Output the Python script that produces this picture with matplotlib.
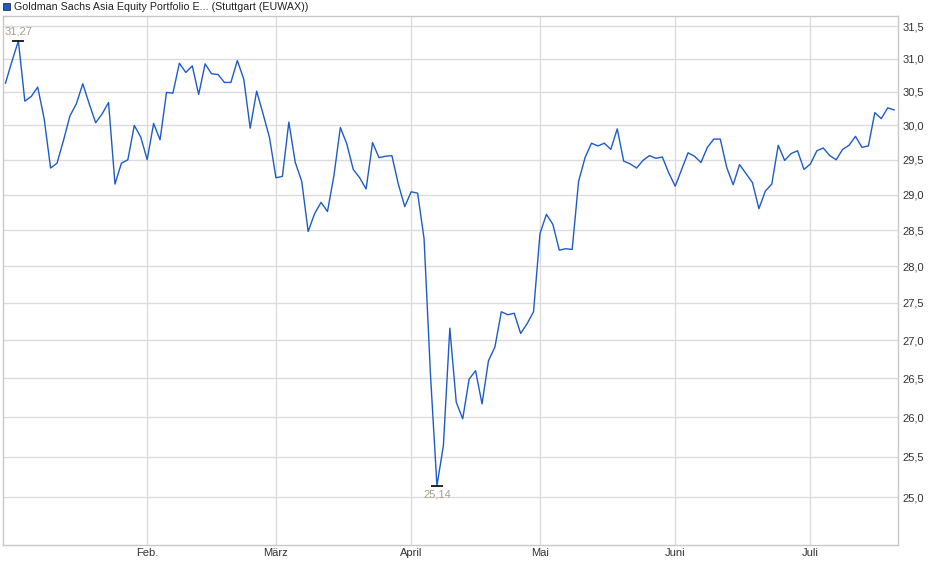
import matplotlib
matplotlib.use("Agg")
import matplotlib.pyplot as plt
from matplotlib.patches import Rectangle
from matplotlib.ticker import FixedLocator, NullLocator, NullFormatter
import numpy as np

plt.rcParams['font.family'] = ['Liberation Sans', 'DejaVu Sans']

# daily closes, 2 Jan .. mid July (trading days)
prices = [
    30.63, 30.96, 31.27, 30.36, 30.43, 30.57, 30.10, 29.38, 29.45, 29.78,
    30.14, 30.32, 30.62, 30.32, 30.04, 30.17, 30.34, 29.15, 29.45, 29.50,
    30.00, 29.83, 29.50, 30.03, 29.79, 30.49, 30.48, 30.93, 30.79, 30.89,
    30.46, 30.92, 30.77, 30.76, 30.64, 30.64, 30.97, 30.69, 29.96, 30.51,
    30.17, 29.82, 29.24, 29.26, 30.05, 29.46, 29.19, 28.48, 28.73, 28.89,
    28.76, 29.27, 29.97, 29.73, 29.36, 29.24, 29.08, 29.75, 29.53, 29.55,
    29.56, 29.15, 28.83, 29.04, 29.02, 28.38, 26.54, 25.14, 25.64, 27.16,
    26.19, 25.98, 26.49, 26.60, 26.17, 26.73, 26.91, 27.38, 27.34, 27.36,
    27.09, 27.22, 27.38, 28.45, 28.72, 28.58, 28.22, 28.24, 28.23, 29.19,
    29.53, 29.74, 29.70, 29.74, 29.65, 29.95, 29.48, 29.44, 29.38, 29.49,
    29.56, 29.52, 29.54, 29.31, 29.12, 29.36, 29.60, 29.55, 29.46, 29.68,
    29.80, 29.80, 29.39, 29.14, 29.43, 29.30, 29.17, 28.80, 29.05, 29.15,
    29.71, 29.49, 29.59, 29.63, 29.36, 29.44, 29.63, 29.67, 29.56, 29.50,
    29.65, 29.71, 29.84, 29.68, 29.70, 30.19, 30.10, 30.26, 30.23,
]

month_start = [22, 42, 63, 83, 104, 125]
month_labels = ["Feb.", "März", "April", "Mai", "Juni", "Juli"]
y_ticks = [25.0, 25.5, 26.0, 26.5, 27.0, 27.5, 28.0, 28.5, 29.0, 29.5, 30.0, 30.5, 31.0, 31.5]

title = "Goldman Sachs Asia Equity Portfolio E... (Stuttgart (EUWAX))"

line_col = "#1f5bc6"
grid_col = "#dcdcdc"
txt_col = "#333333"
lbl_col = "#a89c8e"

W, H = 940, 579
fig = plt.figure(figsize=(W / 100, H / 100), dpi=100)
ax = fig.add_axes([3 / W, 1 - 545 / H, (898 - 3) / W, (545 - 16) / H])

x = np.arange(len(prices))
ax.plot(x, prices, color=line_col, lw=1.0, zorder=3)

ax.set_yscale("log")
ax.set_ylim(24.42, 31.655)
ax.set_xlim(-0.39, 138.6)

ax.yaxis.set_major_locator(FixedLocator(y_ticks))
ax.yaxis.set_minor_locator(NullLocator())
ax.yaxis.set_minor_formatter(NullFormatter())
ax.set_yticklabels([f"{v:.1f}".replace(".", ",") for v in y_ticks])
ax.yaxis.tick_right()
ax.tick_params(axis="y", length=0, pad=3.5, labelsize=8, labelcolor=txt_col)

ax.set_xticks(month_start)
ax.set_xticklabels(month_labels)
ax.tick_params(axis="x", length=0, pad=2.5, labelsize=8, labelcolor=txt_col)

ax.grid(True, color=grid_col, lw=1.0, zorder=0)
for s in ax.spines.values():
    s.set_color("#c8c8c8")
    s.set_linewidth(1.0)

# high / low markers
imax = int(np.argmax(prices))
imin = int(np.argmin(prices))
for i, va, dy in [(imax, "bottom", 3), (imin, "top", -3)]:
    ax.plot(i, prices[i], marker="_", ms=8, mew=1.2, color="black", zorder=4)
    ax.annotate(f"{prices[i]:.2f}".replace(".", ","), (i, prices[i]),
                xytext=(0, dy), textcoords="offset points",
                ha="center", va=va, fontsize=8, color=lbl_col)

# legend square + title
fig.add_artist(Rectangle((3 / W, 1 - 10 / H), 7 / W, 7 / H, transform=fig.transFigure,
                         facecolor=line_col, edgecolor="#333333", lw=0.6))
fig.text(14 / W, 1 - 7 / H, title, fontsize=7.7, color="#222222", va="center", ha="left")

fig.savefig("out.png", dpi=100)
